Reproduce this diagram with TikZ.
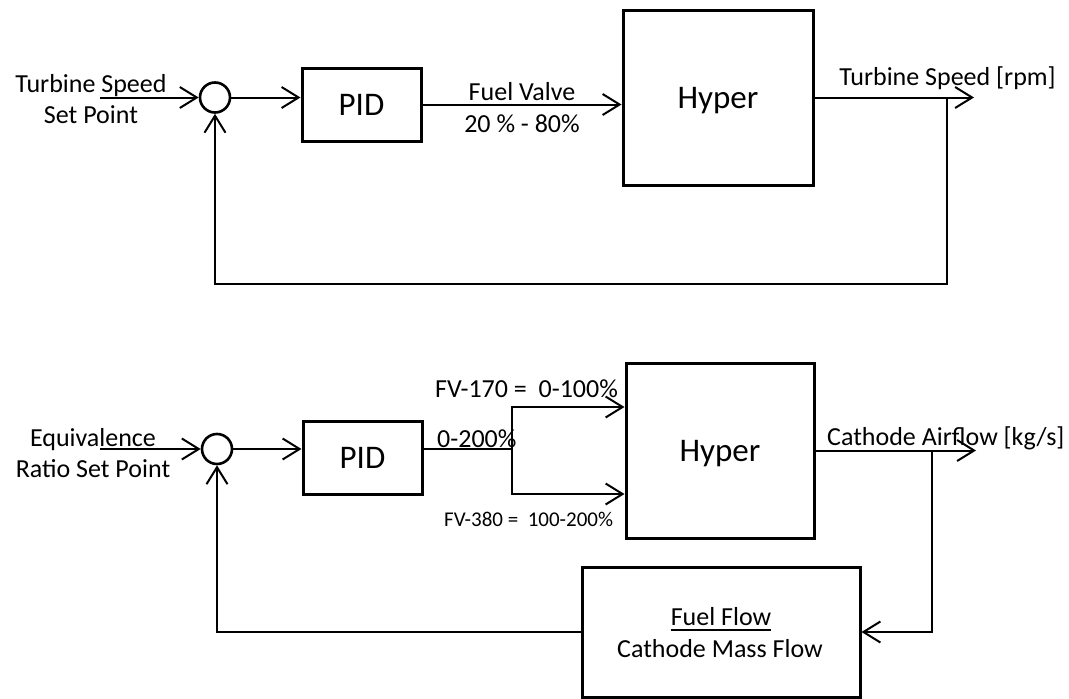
\documentclass[tikz,border=0pt]{standalone}
\usepackage{fontspec}
\setmainfont{Carlito}
\usetikzlibrary{arrows.meta}
\begin{document}
\begin{tikzpicture}[x=1pt,y=-1pt,
  wire/.style={line width=2pt},
  conn/.style={line width=2pt,-{Straight Barb[length=17pt,width=21pt,line width=2pt]}},
  block/.style={draw,line width=3pt,inner sep=0pt,text depth=0pt,font=\fontsize{33}{38}\selectfont},
  sumj/.style={draw,circle,line width=2.6pt,minimum size=30pt,inner sep=0pt},
  txt/.style={inner sep=0pt,font=\fontsize{26}{31}\selectfont},
  smalltxt/.style={inner sep=0pt,font=\fontsize{21}{25}\selectfont}]
\fill[white] (0,0) rectangle (1069,699);
\useasboundingbox (0,0) rectangle (1069,699);

% ---------------- top loop ----------------
\node[sumj] (s1) at (215,97.5) {};
\node[block,minimum width=119pt,minimum height=73pt] (pid1) at (361.5,104.5) {PID};
\node[block,minimum width=190pt,minimum height=175pt] (hyp1) at (718,97.5) {Hyper};
\coordinate (in1) at (100,97.5);
\coordinate (out1) at (974,97.5);
\coordinate (tap1) at (947,97.5);
\coordinate (c1) at (947,284);

\node[txt,anchor=base] (l1a) at (91,92) {Turbine Speed};
\node[txt,anchor=base] (l1b) at (91,123) {Set Point};
\node[txt,anchor=base] (fv1) at (522,100) {Fuel Valve};
\node[txt,anchor=base] (fv2) at (522,132) {20 \% - 80\%};
\node[txt,anchor=base] (o1) at (947.5,85) {Turbine Speed [rpm]};

\draw[conn] (in1) -- (s1.west);
\draw[conn] (s1.east) -- (s1.east -| pid1.west);
\draw[conn] (pid1.east) -- (pid1.east -| hyp1.west);
\draw[conn] (hyp1.east) -- (out1);
\draw[conn] (tap1) -- (c1) -| (s1.south);

% ---------------- bottom loop ----------------
\node[sumj] (s2) at (217,449) {};
\node[block,minimum width=119pt,minimum height=73pt] (pid2) at (362.5,457.5) {PID};
\node[block,minimum width=188pt,minimum height=175pt] (hyp2) at (720,450.5) {Hyper};
\node[draw,line width=3pt,minimum width=278pt,minimum height=130pt,inner sep=0pt] (fbk) at (721,632) {};
\coordinate (in2) at (100,449);
\coordinate (split) at (512,449);
\coordinate (out2) at (976,450.5);
\coordinate (tap2) at (932,450.5);

\node[txt,anchor=base] (l2a) at (93,446) {Equivalence};
\node[txt,anchor=base] (l2b) at (93,477) {Ratio Set Point};
\node[txt,anchor=base west] (fv170) at (435,397) {FV-170 = \ 0-100\%};
\node[txt,anchor=base west] (r200) at (437,447) {0-200\%};
\node[smalltxt,anchor=base west] (fv380) at (444,526) {FV-380 = \ 100-200\%};
\node[txt,anchor=base west] (o2) at (827,445) {Cathode Airflow [kg/s]};
\node[txt,anchor=base] (ff) at (721,625) {Fuel Flow};
\node[txt,anchor=base] (cmf) at (720,657) {Cathode Mass Flow};
\draw[line width=1.8pt] ([yshift=-5pt]ff.base west) -- ([yshift=-5pt]ff.base east);

\draw[conn] (in2) -- (s2.west);
\draw[conn] (s2.east) -- (s2.east -| pid2.west);
\draw[wire] (s2.east -| pid2.east) -- (split);
\draw[conn] (split) |- ([yshift=43.5pt]hyp2.west);
\draw[conn] (split) |- ([yshift=-43.5pt]hyp2.west);
\draw[conn] (hyp2.east) -- (out2);
\draw[conn] (tap2) |- (fbk.east);
\draw[conn] (fbk.west) -| (s2.south);
\end{tikzpicture}
\end{document}
